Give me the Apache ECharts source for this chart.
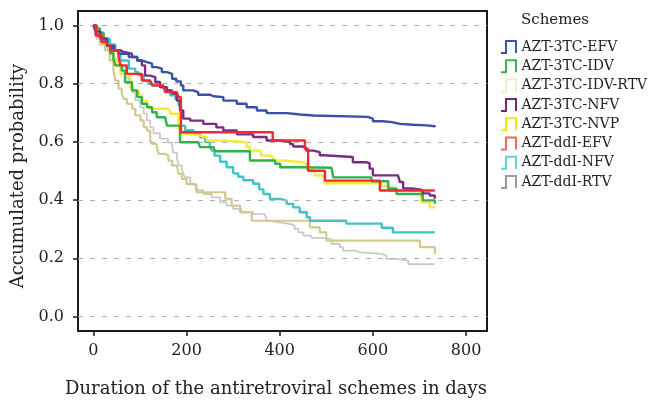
<!DOCTYPE html>
<html><head><meta charset="utf-8">
<script src="https://cdn.jsdelivr.net/npm/echarts@6/dist/echarts.min.js"></script>
<style>html,body{margin:0;padding:0;background:#fff}#c{width:652px;height:401px}</style>
</head><body><div id="c"></div>
<script>
// ---- data (days, accumulated probability) ----
const schemeNames = ['AZT-3TC-EFV','AZT-3TC-IDV','AZT-3TC-IDV-RTV','AZT-3TC-NFV','AZT-3TC-NVP','AZT-ddI-EFV','AZT-ddI-NFV','AZT-ddI-RTV'];
const xTicks = [0,200,400,600,800];
const yTicks = [0,0.2,0.4,0.6,0.8,1.0];

const azt3tcEfv = [[0,1],[4,0.985],[8,0.966],[18,0.945],[30,0.93],[40,0.915],[54,0.903],[76,0.892],[94,0.880],[104,0.874],[115,0.869],[126,0.857],[136,0.852],[147,0.840],[158,0.834],[169,0.817],[178,0.808],[188,0.794],[193,0.777],[214,0.771],[225,0.762],[251,0.757],[258,0.754],[279,0.742],[308,0.731],[329,0.719],[351,0.708],[372,0.699],[415,0.694],[444,0.691],[472,0.686],[589,0.680],[600,0.671],[621,0.668],[641,0.662],[658,0.659],[686,0.657],[716,0.654],[733,0.651]];
const azt3tcIdv = [[0,1],[8,0.99],[14,0.975],[22,0.955],[30,0.93],[36,0.905],[43,0.885],[47,0.863],[61,0.845],[68,0.805],[83,0.777],[94,0.754],[104,0.731],[115,0.719],[126,0.702],[136,0.685],[154,0.680],[158,0.656],[186,0.599],[225,0.593],[229,0.582],[258,0.576],[261,0.568],[336,0.536],[390,0.525],[401,0.513],[450,0.511],[511,0.507],[515,0.478],[597,0.465],[633,0.44],[651,0.421],[700,0.419],[707,0.399],[726,0.399],[733,0.387]];
const azt3tcIdvRtv = [[0,1],[4,0.975],[8,0.955],[14,0.935],[25,0.915],[35,0.88],[43,0.846],[47,0.811],[54,0.783],[61,0.766],[65,0.748],[72,0.731],[83,0.714],[90,0.691],[101,0.674],[108,0.651],[115,0.639],[122,0.605],[126,0.593],[136,0.582],[140,0.559],[154,0.553],[161,0.536],[169,0.519],[179,0.513],[183,0.490],[190,0.473],[200,0.456],[219,0.450],[222,0.427],[283,0.404],[297,0.381],[315,0.358],[340,0.329],[465,0.306],[486,0.289],[500,0.261],[701,0.238],[733,0.215]];
const azt3tcNfv = [[0,1],[5,0.98],[15,0.955],[29,0.93],[45,0.915],[58,0.909],[65,0.903],[83,0.892],[94,0.880],[104,0.863],[111,0.828],[122,0.823],[133,0.806],[143,0.788],[158,0.777],[169,0.766],[179,0.742],[186,0.708],[193,0.680],[208,0.673],[236,0.662],[264,0.650],[279,0.639],[308,0.626],[343,0.617],[372,0.605],[401,0.600],[422,0.593],[429,0.584],[450,0.580],[457,0.570],[472,0.565],[486,0.554],[493,0.548],[557,0.530],[586,0.527],[593,0.508],[600,0.485],[654,0.482],[658,0.462],[665,0.440],[683,0.436],[704,0.432],[708,0.423],[722,0.416],[733,0.405]];
const azt3tcNvp = [[0,1],[6,0.98],[15,0.955],[25,0.935],[35,0.91],[43,0.885],[50,0.86],[58,0.834],[79,0.788],[86,0.777],[97,0.760],[104,0.742],[115,0.725],[122,0.714],[158,0.708],[165,0.697],[183,0.663],[186,0.628],[201,0.622],[229,0.616],[243,0.605],[279,0.599],[329,0.582],[336,0.570],[358,0.565],[361,0.553],[379,0.547],[386,0.536],[407,0.530],[450,0.525],[457,0.507],[472,0.502],[476,0.485],[493,0.481],[497,0.458],[619,0.447],[636,0.433],[694,0.428],[704,0.392],[722,0.375],[733,0.375]];
const aztDdiEfv = [[0,1],[5,0.966],[18,0.943],[29,0.932],[36,0.915],[54,0.892],[58,0.863],[72,0.834],[104,0.811],[122,0.806],[126,0.794],[150,0.788],[154,0.771],[179,0.766],[183,0.754],[188,0.633],[385,0.605],[454,0.576],[461,0.501],[497,0.467],[615,0.433],[733,0.433]];
const aztDdiNfv = [[0,1],[5,0.975],[12,0.965],[22,0.955],[35,0.935],[47,0.915],[58,0.880],[76,0.852],[90,0.840],[97,0.829],[108,0.811],[118,0.800],[133,0.794],[143,0.788],[154,0.777],[165,0.760],[176,0.748],[183,0.725],[188,0.655],[197,0.640],[215,0.628],[229,0.616],[240,0.600],[250,0.585],[254,0.570],[260,0.553],[272,0.532],[286,0.513],[300,0.492],[311,0.480],[322,0.468],[343,0.456],[356,0.437],[365,0.421],[379,0.404],[401,0.398],[415,0.387],[429,0.375],[443,0.358],[458,0.341],[465,0.329],[543,0.319],[619,0.305],[643,0.289],[733,0.289]];
const aztDdiRtv = [[0,1],[4,0.975],[10,0.955],[18,0.935],[30,0.915],[36,0.903],[43,0.880],[58,0.857],[69,0.823],[76,0.800],[83,0.771],[90,0.743],[101,0.719],[108,0.697],[115,0.674],[122,0.650],[129,0.629],[143,0.611],[160,0.598],[169,0.582],[172,0.563],[179,0.546],[183,0.519],[190,0.507],[193,0.490],[197,0.478],[208,0.453],[222,0.434],[236,0.421],[254,0.409],[272,0.392],[286,0.381],[300,0.370],[318,0.359],[343,0.352],[368,0.350],[372,0.329],[379,0.324],[393,0.318],[422,0.312],[432,0.301],[440,0.289],[451,0.278],[468,0.270],[490,0.266],[511,0.249],[529,0.238],[536,0.226],[565,0.220],[572,0.215],[619,0.209],[629,0.198],[651,0.192],[676,0.180],[733,0.180]];

const seriesValues = [azt3tcEfv, azt3tcIdv, azt3tcIdvRtv, azt3tcNfv, azt3tcNvp, aztDdiEfv, aztDdiNfv, aztDdiRtv];

// ---- styles ----
const lineColors = ['#3a50a5','#33b149','#d2c98e','#7a2c84','#f4ea3a','#ef2b30','#3ec3c7','#c9c9c9'];
const legendColors = ['#3b56ad','#3cb44b','#f4ecc2','#722879','#f5e600','#f26a5a','#62d0d6','#9c9c9c'];
const lineWidths = [2.4,2.4,2.2,2.4,2.4,2.4,2.4,1.8];
const zOrder = [8,6,3,7,5,9,4,2];
const FONT = 'DejaVu Serif';

const chart = echarts.init(document.getElementById('c'));
const series = [{
  type:'line', name:'grid', data:[], silent:true, z:1,
  markLine:{silent:true, symbol:['none','none'], label:{show:false}, animation:false,
    lineStyle:{type:[5,7], color:'#b0b0b0', width:1},
    emphasis:{disabled:true},
    data: yTicks.map(v=>({yAxis:v}))}
}];
schemeNames.forEach((n,i)=>series.push({
  type:'line', name:n, step:'end', data:seriesValues[i], showSymbol:false, symbol:'none',
  lineStyle:{color:lineColors[i], width:lineWidths[i]}, itemStyle:{color:lineColors[i]},
  z:zOrder[i], animation:false, emphasis:{disabled:true}
}));

const option = {
  animation:false,
  textStyle:{fontFamily:FONT},
  title:{text:'Schemes', left:521, top:13, padding:0, textStyle:{fontFamily:FONT, fontSize:15, fontWeight:'normal', color:'#222'}},
  grid:{left:78, right:165, top:11, bottom:70, show:true, borderColor:'#1a1a1a', borderWidth:2, outerBoundsMode:'none'},
  xAxis:{type:'value', min:-33, max:845,
    axisLine:{show:false, onZero:false},
    axisTick:{show:true, customValues:xTicks, length:5, lineStyle:{color:'#1a1a1a', width:1.5}},
    axisLabel:{customValues:xTicks, margin:12, fontFamily:FONT, fontSize:16, color:'#222'},
    splitLine:{show:false},
    name:'Duration of the antiretroviral schemes in days', nameLocation:'middle', nameGap:49, nameMoveOverlap:false,
    nameTextStyle:{fontFamily:FONT, fontSize:18, color:'#222', padding:[0,13,0,0]}},
  yAxis:{type:'value', min:-0.05, max:1.05,
    axisLine:{show:false, onZero:false},
    axisTick:{show:true, customValues:yTicks, length:5, lineStyle:{color:'#1a1a1a', width:1.5}},
    axisLabel:{customValues:yTicks, margin:14, fontFamily:FONT, fontSize:16, color:'#222', formatter:v=>v.toFixed(1)},
    splitLine:{show:false},
    name:'Accumulated probability', nameLocation:'middle', nameGap:51, nameMoveOverlap:false,
    nameTextStyle:{fontFamily:FONT, fontSize:18, color:'#222', padding:[0,10,0,0]}},
  legend:{orient:'vertical', left:500, top:40, itemWidth:16, itemHeight:12, itemGap:5.3, padding:0,
    selectedMode:false,
    textStyle:{fontFamily:FONT, fontSize:14, color:'#222', lineHeight:14},
    data:schemeNames.map((n,i)=>({name:n, icon:'path://M0,12L5,12L5,0L15,0L15,12',
      itemStyle:{color:'rgba(0,0,0,0)', borderColor:legendColors[i], borderWidth:2}}))},
  series
};
chart.setOption(option);
</script></body></html>
